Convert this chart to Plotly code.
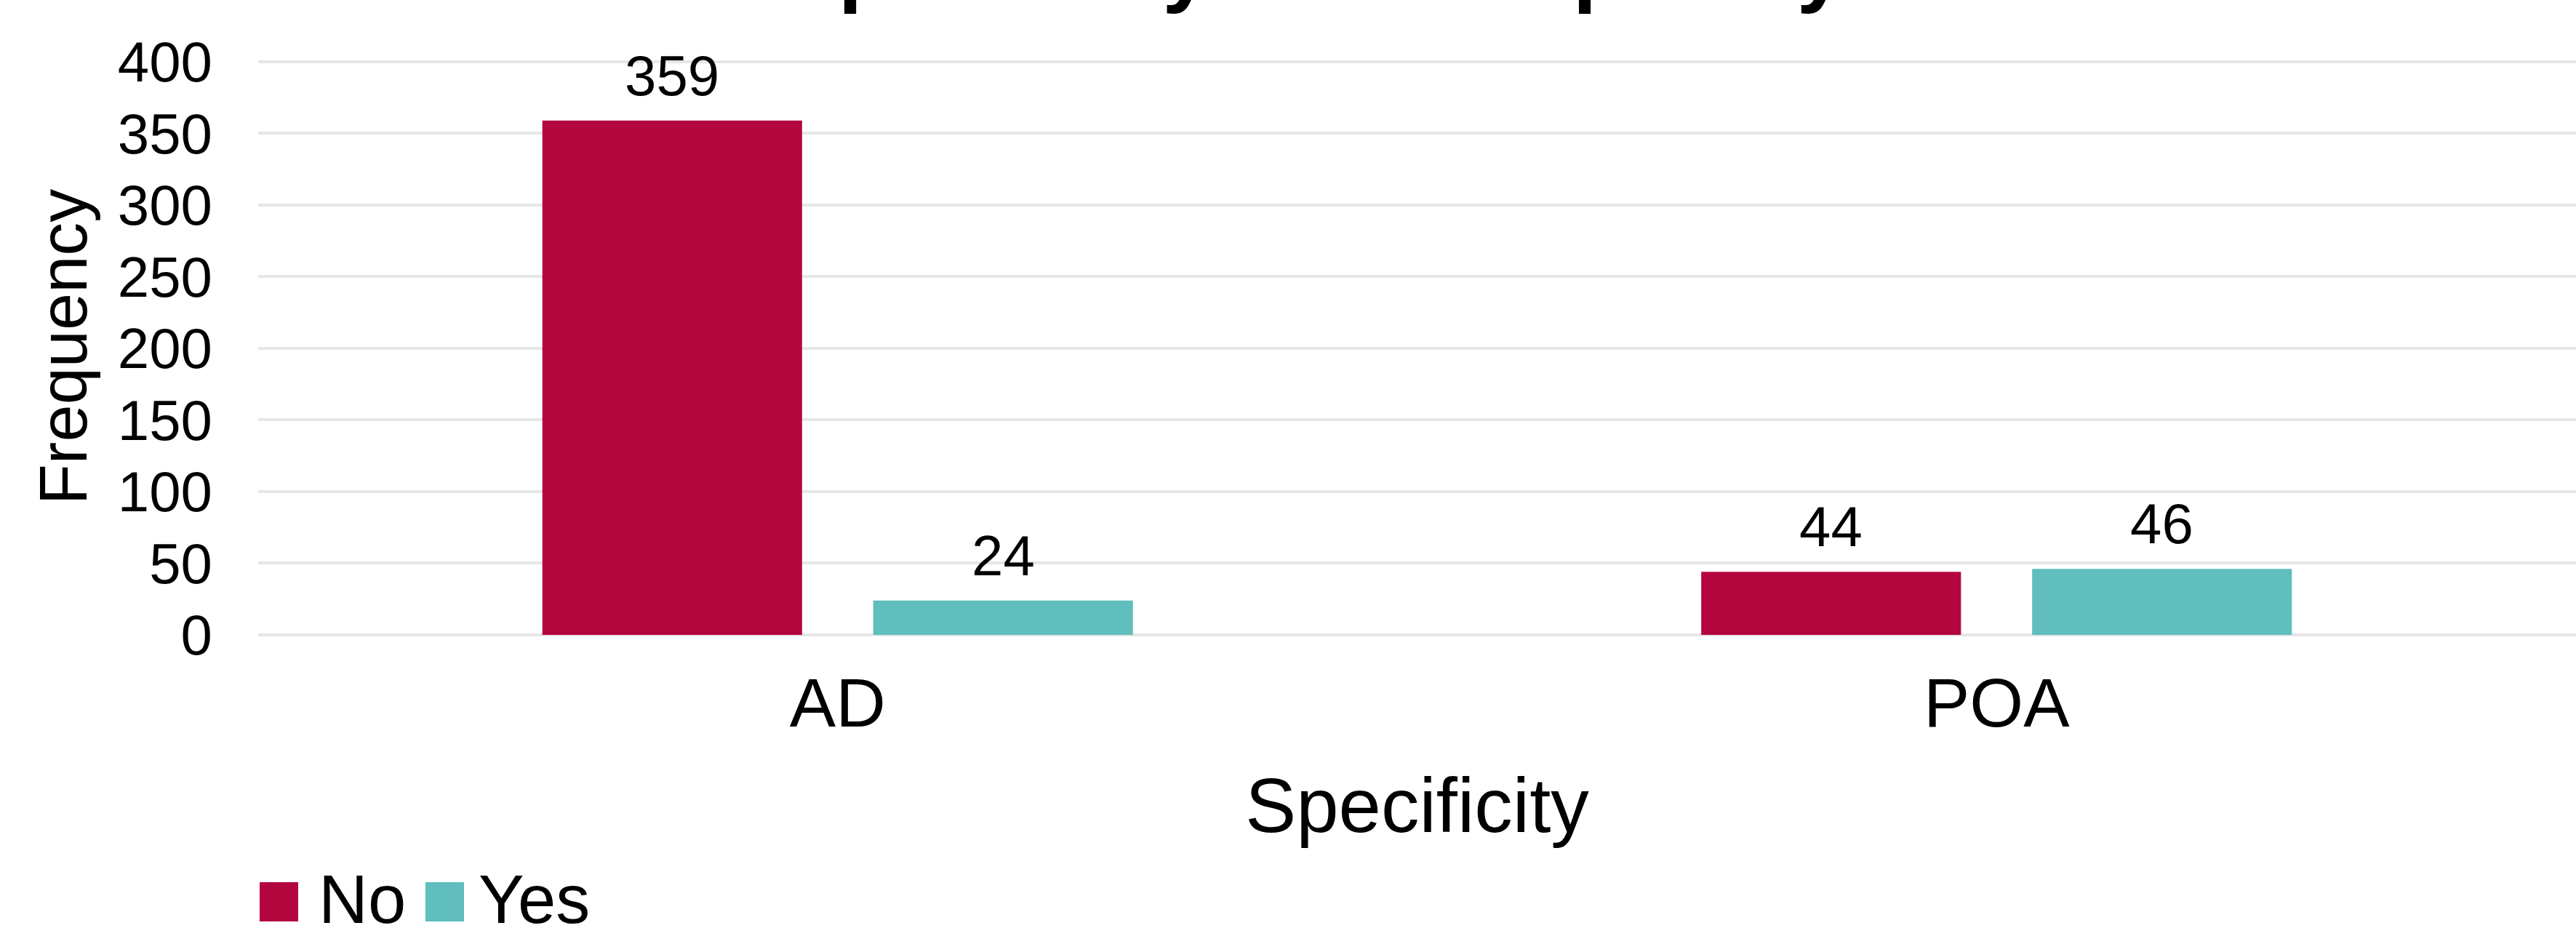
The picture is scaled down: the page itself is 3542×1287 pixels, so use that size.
import plotly.graph_objects as go

# Data
categories = ["AD", "POA"]
series_names = ["No", "Yes"]
no_values = [359, 44]
yes_values = [24, 46]
series_values = [no_values, yes_values]
series_colors = ["#B3063F", "#60BEBE"]
y_ticks = [0, 50, 100, 150, 200, 250, 300, 350, 400]

title_text = "Specificity and Frequency"
x_title = "Specificity"
y_title = "Frequency"

# Layout geometry (pixels)
W, H = 3542, 1287
M_L, M_R, M_T, M_B = 355, 0, 81, 414
PLOT_W = W - M_L - M_R
PLOT_H = H - M_T - M_B
Y_MAX = 402  # a little headroom so the 400 gridline is drawn
BARGAP = 0.429
BARGROUPGAP = 0.215
FONT = "Liberation Sans, Arial, Helvetica, sans-serif"


def px_x(px):
    return (px - M_L) / PLOT_W


def px_y(py):
    return (H - M_B - py) / PLOT_H


fig = go.Figure()
for name, vals, color in zip(series_names, series_values, series_colors):
    fig.add_trace(go.Bar(
        x=categories, y=vals, name=name,
        marker=dict(color=color, line=dict(width=0)),
        showlegend=False,
    ))

# Value labels above each bar, placed at the grouped bar centres
n = len(series_names)
slot = (1 - BARGAP) / n
annotations = []
for i, vals in enumerate(series_values):
    offset = -(1 - BARGAP) / 2 + slot * (i + 0.5)
    for j, v in enumerate(vals):
        annotations.append(dict(
            x=j + offset, y=v, xref="x", yref="y",
            text=str(v), showarrow=False,
            yanchor="bottom", yshift=16,
            font=dict(size=78, color="#000000", family=FONT),
        ))

# Chart title (sits at the very top edge, mostly above the page)
annotations.append(dict(
    x=px_x(1805), y=px_y(-47), xref="paper", yref="paper",
    text=f"<b>{title_text}</b>", showarrow=False,
    xanchor="center", yanchor="middle",
    font=dict(size=118, color="#000000", family=FONT),
))

# Legend: square swatches with labels
shapes = []
legend_items = [(357, 437), (585, 657)]
for (sx, tx), name, color in zip(legend_items, series_names, series_colors):
    shapes.append(dict(
        type="rect", xref="paper", yref="paper",
        x0=px_x(sx), x1=px_x(sx + 53), y0=px_y(1267), y1=px_y(1213),
        fillcolor=color, line=dict(width=0),
    ))
    annotations.append(dict(
        x=px_x(tx), y=px_y(1236), xref="paper", yref="paper",
        text=name, showarrow=False, xanchor="left", yanchor="middle",
        borderpad=0,
        font=dict(size=94, color="#000000", family=FONT),
    ))

fig.update_layout(
    width=W, height=H,
    margin=dict(l=M_L, r=M_R, t=M_T, b=M_B, pad=0),
    paper_bgcolor="#FFFFFF", plot_bgcolor="#FFFFFF",
    barmode="group", bargap=BARGAP, bargroupgap=BARGROUPGAP,
    font=dict(family=FONT, color="#000000"),
    showlegend=False,
    annotations=annotations,
    shapes=shapes,
)

fig.update_xaxes(
    type="category",
    showgrid=False, showline=False, zeroline=False, ticks="",
    tickfont=dict(size=95, color="#000000"),
    ticklabelstandoff=30,
    title=dict(text=x_title, font=dict(size=105, color="#000000"), standoff=52),
    automargin=False,
)

fig.update_yaxes(
    range=[0, Y_MAX], tickvals=y_ticks,
    showgrid=True, gridcolor="#E6E6E6", gridwidth=4,
    zeroline=True, zerolinecolor="#E6E6E6", zerolinewidth=4,
    showline=False, ticks="",
    tickfont=dict(size=78, color="#000000"),
    ticklabelstandoff=62,
    title=dict(text=y_title, font=dict(size=92, color="#000000"), standoff=11),
    automargin=False,
)

fig.write_html("out.html")
